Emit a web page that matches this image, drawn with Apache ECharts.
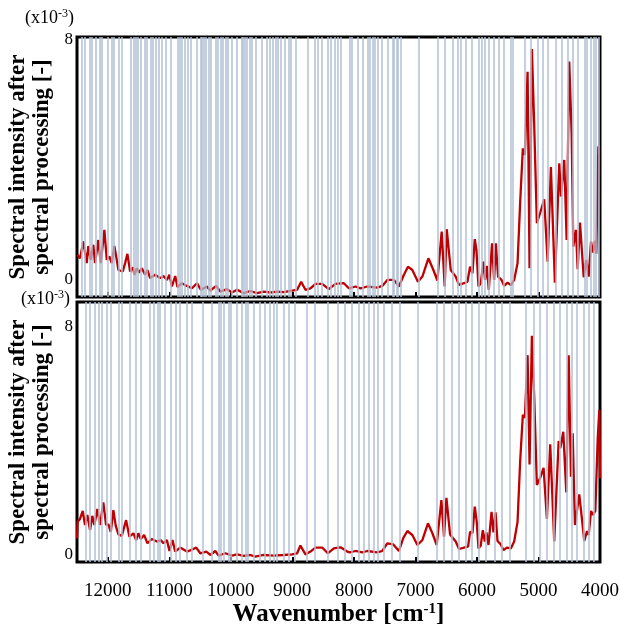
<!DOCTYPE html>
<html>
<head>
<meta charset="utf-8">
<script src="https://cdn.jsdelivr.net/npm/echarts@6/dist/echarts.min.js"></script>
<style>
html,body{margin:0;padding:0;background:#fff;}
#chart{width:621px;height:628px;}
</style>
</head>
<body>
<div id="chart"></div>
<script>
// ---- data ----
const wavenumberTicks = [12000, 11000, 10000, 9000, 8000, 7000, 6000, 5000, 4000];
const yTickLabels = [0, 8];

// selected wavenumbers (vertical lines), upper panel
const topSelected = [12425, 12370, 12300, 12260, 12200, 12135, 12105, 12000, 11930, 11900, 11825, 11765,
  11620, 11585, 11550, 11510, 11460, 11405, 11365, 11295, 11265, 11215, 11175, 11130, 11060, 10970,
  10870, 10835, 10795, 10755, 10700, 10645, 10560, 10495, 10465, 10435, 10400, 10355, 10320, 10250,
  10210, 10170, 10125, 10090, 10045, 9985, 9910, 9830, 9800, 9775, 9735, 9695, 9655, 9600, 9505, 9420,
  9370, 9315, 9275, 9240, 9185, 9125, 9060, 9020, 8940, 8750, 8635, 8595, 8525, 8420, 8380, 8315, 8260,
  8215, 8070, 8040, 7930, 7855, 7775, 7740, 7700, 7665, 7620, 7540, 7455, 7375, 7350, 7310, 7280, 7240,
  6950, 6645, 6525, 6400, 6305, 6265, 6180, 6080, 5965, 5925, 5870, 5800, 5720, 5645, 5565, 5450, 5420,
  5215, 5130, 5005, 4925, 4845, 4725, 4625, 4525, 4445, 4365, 4245, 4210, 4145, 4105, 4065, 4015];

// selected wavenumbers (vertical lines), lower panel
const bottomSelected = [12365, 12285, 12215, 12145, 12095, 12015, 11945, 11820, 11780, 11640, 11545, 11470,
  11325, 11260, 11195, 11150, 11070, 10970, 10890, 10825, 10715, 10630, 10450, 10305, 10195, 10170, 10115,
  10030, 10005, 9905, 9830, 9760, 9730, 9620, 9525, 9445, 9360, 9295, 9260, 9140, 9065, 8955, 8760, 8635,
  8430, 8255, 8145, 8035, 7925, 7845, 7765, 7680, 7610, 7520, 7380, 7260, 6955, 6660, 6535, 6410, 6300,
  6190, 6080, 5970, 5850, 5715, 5590, 5470, 5210, 5075, 4980, 4860, 4750, 4650, 4540, 4460, 4375, 4270,
  4185, 4105];

// upper spectrum (x10^-3)
const topWavenumber = [12495, 12451, 12397, 12342, 12316, 12277, 12235, 12207, 12153, 12114, 12055, 12016,
  11974, 11935, 11893, 11854, 11827, 11756, 11718, 11681, 11637, 11593, 11567, 11528, 11490, 11446, 11393,
  11355, 11311, 11230, 11148, 11095, 11039, 10997, 10958, 10904, 10867, 10795, 10714, 10632, 10551, 10486,
  10388, 10334, 10237, 10171, 10062, 9981, 9899, 9792, 9683, 9574, 9466, 9357, 9248, 9141, 9004, 8922,
  8857, 8787, 8706, 8624, 8515, 8408, 8299, 8163, 8082, 7973, 7892, 7782, 7620, 7538, 7457, 7349, 7268,
  7187, 7121, 7050, 6959, 6887, 6789, 6708, 6643, 6573, 6524, 6491, 6426, 6345, 6291, 6210, 6154, 6112,
  6073, 6035, 6008, 5975, 5938, 5894, 5868, 5840, 5807, 5754, 5721, 5693, 5656, 5601, 5558, 5503, 5449,
  5395, 5340, 5298, 5254, 5221, 5177, 5145, 5107, 5070, 5026, 4972, 4944, 4907, 4851, 4798, 4733, 4662,
  4635, 4581, 4542, 4500, 4461, 4434, 4391, 4363, 4325, 4265, 4223, 4184, 4146, 4114, 4081, 4060, 4027, 4000];
const topIntensity = [0.83, 0.72, 1.28, 0.56, 1.13, 0.67, 1.17, 0.56, 1.33, 0.56, 1.67, 0.67,
  0.78, 0.56, 1.13, 0.67, 0.33, 0.28, 0.56, 0.87, 0.28, 0.42, 0.17, 0.39, 0.24, 0.39, 0.17,
  0.33, 0.06, 0.17, 0.06, 0.13, 0.0, 0.17, -0.22, 0.13, -0.24, -0.11, -0.2, -0.28, -0.11, -0.33,
  -0.22, -0.36, -0.2, -0.39, -0.31, -0.42, -0.33, -0.44, -0.37, -0.44, -0.39, -0.42, -0.39, -0.41, -0.36, -0.33,
  -0.06, -0.33, -0.28, -0.13, -0.13, -0.31, -0.13, -0.11, -0.28, -0.22, -0.28, -0.22, -0.26, -0.2, 0.0, 0.0, -0.22,
  0.17, 0.44, 0.33, -0.06, 0.11, 0.72, 0.33, -0.02, 1.61, -0.22, 1.69, 0.33, 0.11, -0.17, -0.11, -0.06, 0.44,
  0.22, 1.36, 1.0, -0.22, -0.11, 0.61, 0.0, 0.47, -0.33, 1.22, 0.0, 1.22, 0.11, 0.0, -0.2, -0.09, -0.17,
  0.0, 0.56, 2.56, 4.39, 4.17, 6.94, 0.39, 7.7, 5.22, 1.89, 2.24, 2.24, 2.69, 0.61, 3.76, -0.09, 3.89,
  2.78, 4.0, 1.33, 7.28, 4.89, 1.11, 1.67, 0.36, 1.91, 0.09, 0.67, 0.11, 1.28, 0.91, 1.31, 0.87, 4.44, 4.44];

// lower spectrum (x10^-3)
const bottomWavenumber = [12500, 12490, 12451, 12407, 12370, 12332, 12288, 12251, 12218, 12169, 12125, 12072,
  12028, 11990, 11951, 11909, 11870, 11827, 11772, 11702, 11648, 11583, 11539, 11502, 11463, 11409, 11355,
  11284, 11202, 11137, 11095, 11039, 10997, 10948, 10904, 10823, 10714, 10649, 10562, 10497, 10399, 10334,
  10253, 10199, 10090, 9981, 9899, 9792, 9683, 9601, 9466, 9303, 9141, 9004, 8922, 8869, 8787, 8706, 8624,
  8515, 8424, 8326, 8217, 8108, 8066, 7973, 7864, 7782, 7620, 7538, 7457, 7359, 7268, 7196, 7131, 7050,
  6968, 6887, 6796, 6724, 6654, 6578, 6535, 6496, 6437, 6345, 6291, 6210, 6144, 6112, 6073, 6035, 6003,
  5975, 5938, 5905, 5872, 5845, 5812, 5763, 5731, 5698, 5666, 5612, 5568, 5514, 5449, 5395, 5340, 5298,
  5254, 5221, 5177, 5145, 5107, 5070, 5026, 4972, 4944, 4917, 4863, 4809, 4744, 4672, 4646, 4597, 4548,
  4509, 4472, 4444, 4407, 4337, 4255, 4211, 4184, 4146, 4114, 4076, 4037, 4011, 4000];
const bottomIntensity = [0.58, 1.16, 1.26, 1.54, 1.05, 1.4, 0.87, 1.37, 1.05, 1.61, 1.05, 1.84,
  1.05, 1.07, 0.81, 1.57, 1.02, 0.72, 0.67, 1.22, 0.64, 0.76, 0.52, 0.76, 0.56, 0.7, 0.41,
  0.56, 0.47, 0.52, 0.41, 0.52, 0.14, 0.52, 0.12, 0.26, 0.12, 0.17, 0.26, 0.06, 0.12, 0.0,
  0.14, -0.02, 0.06, -0.02, 0.02, -0.03, 0.0, -0.06, 0.0, -0.02, 0.0, 0.02, 0.06, 0.33, 0.02, 0.12, 0.26,
  0.26, 0.06, 0.23, 0.27, 0.12, 0.09, 0.14, 0.09, 0.14, 0.09, 0.14, 0.41, 0.37, 0.14, 0.6, 0.84, 0.7,
  0.35, 0.52, 1.11, 0.76, 0.35, 1.92, 0.64, 2.0, 0.72, 0.47, 0.21, 0.26, 0.29, 0.81, 0.76, 1.69, 1.16,
  0.23, 0.33, 0.87, 0.47, 0.79, 0.35, 1.51, 0.79, 1.49, 0.49, 0.37, 0.17, 0.26, 0.23, 0.47, 1.16, 3.26,
  4.9, 4.8, 6.99, 3.17, 7.67, 5.59, 2.45, 2.7, 2.74, 3.05, 1.26, 3.87, 0.47, 3.99, 3.73, 4.31, 2.19,
  6.99, 2.74, 4.26, 1.05, 2.12, 0.49, 0.84, 0.7, 1.54, 1.4, 1.54, 4.08, 5.07, 2.68];

// ---- chart ----
const serif = 'Liberation Serif, Times New Roman, serif';
const pair = (xs, ys) => xs.map((x, i) => [x, ys[i]]);

const yName = 'Spectral intensity after\nspectral processing [-]';
const yNameStyle = {fontFamily: serif, fontWeight: 'bold', fontSize: 23, lineHeight: 24, color: '#000'};
const tickStyle = {show: true, inside: true, length: 5, lineStyle: {color: '#000', width: 2}, customValues: wavenumberTicks};
const lineMarkStyle = {color: '#b0bfd4', width: 1.5, type: 'solid', opacity: 1};

function marks(list) {
  return {
    silent: true, symbol: ['none', 'none'], label: {show: false}, animation: false,
    lineStyle: lineMarkStyle, emphasis: {disabled: true},
    data: list.map(w => ({xAxis: w}))
  };
}

const supText = {fontSize: 12, fontFamily: serif, fill: '#000', padding: [0, 0, 8, 0]};

const chart = echarts.init(document.getElementById('chart'), null, {renderer: 'canvas'});
chart.setOption({
  animation: false,
  backgroundColor: '#fff',
  grid: [
    {left: 77, top: 37, width: 523, height: 260, show: true, borderColor: '#000', borderWidth: 3,
      backgroundColor: 'transparent', containLabel: false, outerBoundsMode: 'none'},
    {left: 77, top: 302, width: 523, height: 260, show: true, borderColor: '#000', borderWidth: 3,
      backgroundColor: 'transparent', containLabel: false, outerBoundsMode: 'none'}
  ],
  xAxis: [
    {gridIndex: 0, type: 'value', inverse: true, min: 4000, max: 12500, interval: 1000,
      axisLine: {show: false, onZero: false}, axisTick: tickStyle, axisLabel: {show: false}, splitLine: {show: false}},
    {gridIndex: 1, type: 'value', inverse: true, min: 4000, max: 12500, interval: 1000,
      axisLine: {show: false, onZero: false}, axisTick: tickStyle, splitLine: {show: false},
      axisLabel: {show: true, customValues: wavenumberTicks, formatter: v => String(v),
        fontFamily: serif, fontSize: 19, color: '#000', margin: 20},
      name: 'Wavenumber [cm{s|-1}]', nameLocation: 'middle', nameGap: 40,
      nameTextStyle: {fontFamily: serif, fontWeight: 'bold', fontSize: 25, color: '#000',
        rich: {s: {fontFamily: serif, fontWeight: 'bold', fontSize: 15, color: '#000', padding: [0, 0, 11, 0]}}}}
  ],
  yAxis: [
    {gridIndex: 0, type: 'value', min: -0.57, max: 8.1,
      axisLine: {show: false, onZero: false}, axisTick: {show: false}, splitLine: {show: false},
      axisLabel: {customValues: yTickLabels, fontFamily: serif, fontSize: 17, color: '#000', margin: 4},
      name: yName, nameLocation: 'middle', nameRotate: 90, nameGap: 20, nameTextStyle: yNameStyle},
    {gridIndex: 1, type: 'value', min: -0.245, max: 8.85,
      axisLine: {show: false, onZero: false}, axisTick: {show: false}, splitLine: {show: false},
      axisLabel: {customValues: yTickLabels, fontFamily: serif, fontSize: 17, color: '#000', margin: 4},
      name: yName, nameLocation: 'middle', nameRotate: 90, nameGap: 20, nameTextStyle: yNameStyle}
  ],
  graphic: [
    {type: 'text', left: 25, top: 8, silent: true,
      style: {text: '(x10{s|-3})', fill: '#000', font: '18px ' + serif, rich: {s: supText}}},
    {type: 'text', left: 21, top: 289, silent: true,
      style: {text: '(x10{s|-3})', fill: '#000', font: '18px ' + serif, rich: {s: supText}}}
  ],
  series: [
    {type: 'line', xAxisIndex: 0, yAxisIndex: 0, data: [], z: 1, markLine: marks(topSelected)},
    {type: 'line', xAxisIndex: 1, yAxisIndex: 1, data: [], z: 1, markLine: marks(bottomSelected)},
    {type: 'line', xAxisIndex: 0, yAxisIndex: 0, data: pair(topWavenumber, topIntensity), z: 3,
      symbol: 'none', lineStyle: {color: '#c00000', width: 2.3}, clip: true},
    {type: 'line', xAxisIndex: 1, yAxisIndex: 1, data: pair(bottomWavenumber, bottomIntensity), z: 3,
      symbol: 'none', lineStyle: {color: '#c00000', width: 2.3}, clip: true}
  ]
});
</script>
</body>
</html>
